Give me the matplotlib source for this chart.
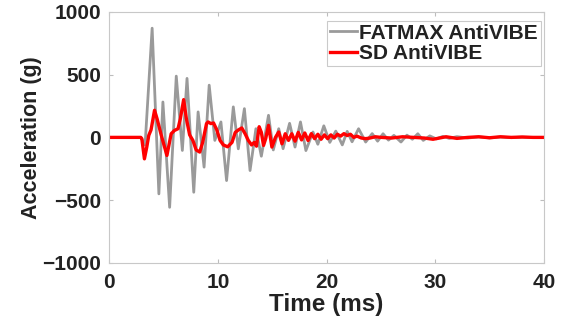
import matplotlib
matplotlib.use("Agg")
import matplotlib.pyplot as plt

# FATMAX AntiVIBE (gray) - time (ms) and acceleration (g)
fatmax_t = [0, 2.9, 3.3, 3.95, 4.57, 4.94, 5.56, 6.17, 6.73, 7.16, 7.78, 8.18, 8.73,
            9.2, 9.72, 10.28, 10.8, 11.42, 11.88, 12.44, 12.96, 13.5, 14.0, 14.66,
            15.1, 15.6, 16.0, 16.6, 17.1, 17.6, 18.1, 18.75, 19.2, 19.75, 20.3, 20.85,
            21.45, 21.9, 22.35, 22.95, 23.6, 24.2, 24.7, 25.2, 25.7, 26.2, 26.85, 27.4,
            27.9, 28.4, 28.9, 29.5, 30.1, 30.7, 31.3, 32.0, 33.0, 34.0, 35.0, 36.0,
            37.0, 38.0, 39.0, 40.0]
fatmax_g = [0, 0, -60, 870, -450, 282, -557, 488, -104, 470, -437, 203, -237,
            416, -24, 123, -344, 243, -91, 229, -264, 69, -150, 176,
            -100, 69, -90, 112, -77, 123, -105, 43, -55, 92, -40, 50,
            -60, 48, -35, 69, -37, 30, -30, 29, -22, 16, -37, 18,
            -15, 29, -24, 12, -12, 8, -8, 6, -5, 4, -4, 3,
            -2, 2, -1, 0]

# SD AntiVIBE (red)
sd_t = [0, 2.9, 3.0, 3.24, 3.45, 3.64, 3.85, 4.17, 4.4, 4.78, 5.31, 5.7, 6.0, 6.33,
        6.55, 6.85, 7.1, 7.4, 7.7, 8.0, 8.33, 8.6, 8.95, 9.1, 9.35, 9.6, 9.9, 10.2,
        10.5, 10.9, 11.3, 11.6, 11.9, 12.2, 12.5, 12.8, 13.1, 13.35, 13.55, 13.8,
        14.0, 14.2, 14.4, 14.66, 14.97, 15.3, 15.6, 15.9, 16.2, 16.5, 16.8, 17.1,
        17.4, 17.7, 18.0, 18.3, 18.6, 18.9, 19.2, 19.5, 19.8, 20.1, 20.4, 20.7,
        21.0, 21.3, 21.6, 21.9, 22.2, 22.5, 22.8, 23.2, 23.6, 24.0, 24.5, 25.0,
        26.0, 27.0, 28.0, 29.0, 29.8, 31.0, 32.0, 33.0, 34.0, 35.0, 36.0, 37.0,
        38.0, 39.0, 40.0]
sd_g = [0, 0, -10, -171, -80, 16, 60, 216, 150, 20, -144, 29, 55, 69,
        150, 301, 150, 20, -24, -100, -117, -40, 109, 123, 110, 115, 60, -24,
        -60, -75, -40, 40, 60, 75, 30, -24, -60, -40, -70, 85,
        40, -64, -10, 96, -77, 0, 43, -51, 29, -24, 29, -30,
        40, -20, 35, -25, 30, -10, 25, -15, 20, -10, 20, -5,
        25, 10, 30, 15, 25, 0, 10, -5, -10, -5, 5, 0,
        -5, 5, 0, -5, -15, 5, -8, 0, 5, -3, 5, 0,
        3, 0, 0]

plt.rcParams['font.family'] = ['Liberation Sans', 'DejaVu Sans']
plt.rcParams['font.weight'] = 'bold'

fig = plt.figure(figsize=(5.63, 3.21), dpi=100)
ax = fig.add_axes([0.194, 0.181, 0.772, 0.782])

ax.plot(fatmax_t, fatmax_g, color='#9a9a9a', lw=2.0, label='FATMAX AntiVIBE')
ax.plot(sd_t, sd_g, color='#ff0000', lw=2.4, label='SD AntiVIBE')

ax.set_xlim(0, 40)
ax.set_ylim(-1000, 1000)
ax.set_xticks([0, 10, 20, 30, 40])
ax.set_yticks([-1000, -500, 0, 500, 1000])
ax.tick_params(direction='in', length=3, width=0.8, color='#bdbdbd',
               top=True, right=True, labelsize=15, labelcolor='#222222')
ax.tick_params(axis='x', pad=7)
ax.tick_params(axis='y', pad=6)
for lab in ax.get_xticklabels() + ax.get_yticklabels():
    lab.set_fontweight('bold')
for s in ax.spines.values():
    s.set_color('#c8c8c8')
    s.set_linewidth(0.8)

ax.set_xlabel('Time (ms)', fontsize=17.5, fontweight='bold', color='#222222', labelpad=1)
ax.set_ylabel('Acceleration (g)', fontsize=15.5, fontweight='bold', color='#222222', labelpad=0)

leg = ax.legend(loc='upper right', bbox_to_anchor=(0.993, 0.965), fontsize=15,
                frameon=True, fancybox=False, borderpad=0.15, handlelength=1.3,
                handletextpad=0.1, labelspacing=0.05, borderaxespad=0)
leg.get_frame().set_edgecolor('#bdbdbd')
leg.get_frame().set_linewidth(0.8)
for txt in leg.get_texts():
    txt.set_fontweight('bold')
    txt.set_color('#222222')

fig.savefig('out.png', dpi=100)
